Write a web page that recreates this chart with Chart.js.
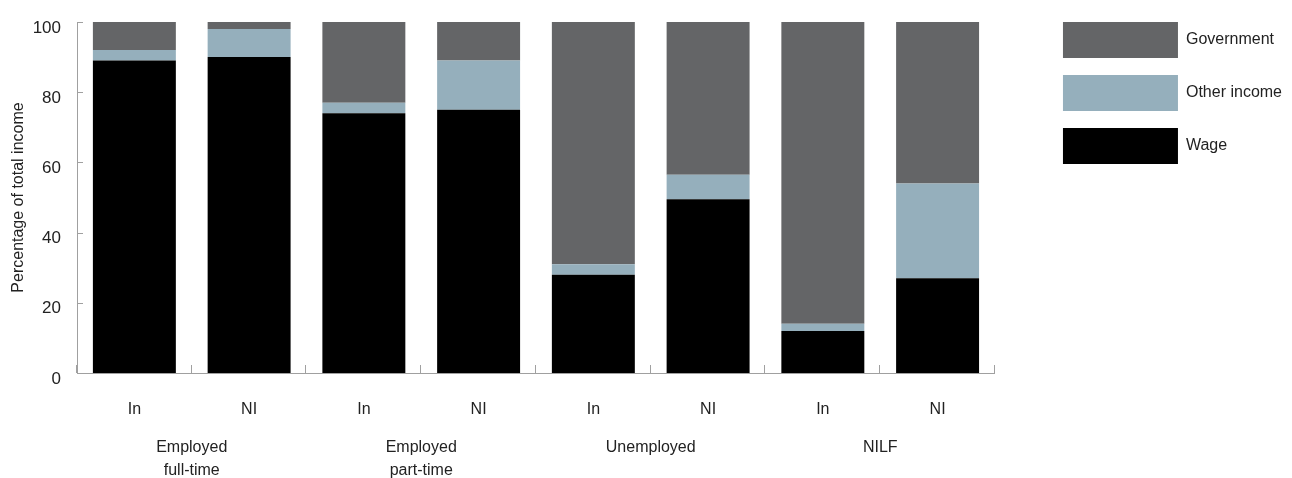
<!DOCTYPE html>
<html>
<head>
<meta charset="utf-8">
<script src="https://cdn.jsdelivr.net/npm/chart.js@4/dist/chart.umd.min.js"></script>
<style>
    body { margin: 0; background: #fff; }
    #wrap { width: 1292px; height: 478px; position: relative; }
</style>
</head>
<body>
<div id="wrap"><canvas id="income-chart"></canvas></div>
<script>
// Data
const categories = ['In', 'NI', 'In', 'NI', 'In', 'NI', 'In', 'NI'];
const groups = [['Employed', 'full-time'], ['Employed', 'part-time'], 'Unemployed', 'NILF'];
const wage = [89, 90, 74, 75, 28, 49.5, 12, 27];
const otherIncome = [3, 8, 3, 14, 3, 7, 2, 27];
const government = [8, 2, 23, 11, 69, 43.5, 86, 46];
const yTicks = [0, 20, 40, 60, 80, 100];

const axisColor = '#a0a0a0';
const textColor = '#222';

Chart.defaults.font.family = "'Liberation Sans', Arial, sans-serif";
Chart.defaults.font.size = 16;
Chart.defaults.color = textColor;

// Short tick marks pointing into the plot
const innerTicks = {
    id: 'innerTicks',
    afterDraw(chart) {
        const ctx = chart.ctx;
        const x = chart.scales.x;
        const y = chart.scales.y;
        ctx.save();
        ctx.strokeStyle = axisColor;
        ctx.lineWidth = 1;
        ctx.beginPath();
        yTicks.forEach(v => {
            const py = Math.round(y.getPixelForValue(v)) + 0.5;
            ctx.moveTo(y.right, py);
            ctx.lineTo(y.right + 6, py);
        });
        for (let i = 0; i <= categories.length; i++) {
            let px;
            if (i === 0) px = x.left;
            else if (i === categories.length) px = x.right;
            else px = (x.getPixelForTick(i - 1) + x.getPixelForTick(i)) / 2;
            px = Math.round(px) - 0.5;
            ctx.moveTo(px, x.top);
            ctx.lineTo(px, x.top - 8);
        }
        ctx.stroke();
        ctx.restore();
    }
};

new Chart(document.getElementById('income-chart'), {
    type: 'bar',
    data: {
        labels: categories,
        datasets: [
            { label: 'Wage', data: wage, backgroundColor: '#000000' },
            { label: 'Other income', data: otherIncome, backgroundColor: '#95afbc' },
            { label: 'Government', data: government, backgroundColor: '#646567' }
        ]
    },
    options: {
        responsive: true,
        maintainAspectRatio: false,
        animation: false,
        borderWidth: 0,
        categoryPercentage: 1,
        barPercentage: 0.723,
        layout: { padding: { top: 5, right: 0, bottom: 0, left: 0 } },
        plugins: {
            tooltip: { enabled: false },
            legend: {
                position: 'right',
                align: 'start',
                reverse: true,
                maxWidth: 320,
                labels: {
                    boxWidth: 115,
                    boxHeight: 36,
                    padding: 17,
                    color: textColor,
                    font: { size: 16 }
                }
            }
        },
        scales: {
            x: {
                stacked: true,
                weight: 1,
                grid: { display: false, drawTicks: false },
                border: { display: true, color: axisColor, width: 1 },
                ticks: { padding: 27, font: { size: 16 } },
                afterFit: s => { s.height = 49; }
            },
            x2: {
                type: 'category',
                labels: groups,
                position: 'bottom',
                offset: true,
                weight: 2,
                grid: { display: false, drawTicks: false },
                border: { display: false },
                ticks: { padding: 14, font: { size: 16, lineHeight: 1.44 } },
                afterFit: s => { s.height = 56; }
            },
            y: {
                stacked: true,
                min: 0,
                max: 100,
                grid: { display: false, drawTicks: false },
                border: { display: true, color: axisColor, width: 1 },
                ticks: {
                    stepSize: 20,
                    padding: 16,
                    labelOffset: 6,
                    font: { size: 17 }
                },
                title: {
                    display: true,
                    text: 'Percentage of total income',
                    color: textColor,
                    font: { size: 16 },
                    padding: { top: 9, bottom: 0 }
                },
                afterFit: s => {
                    s.width = 77;
                    s.paddingTop = 22;
                    s.paddingBottom = 0;
                }
            },
            gap: {
                type: 'linear',
                position: 'right',
                display: true,
                grid: { display: false, drawTicks: false },
                border: { display: false },
                ticks: { display: false },
                afterFit: s => { s.width = 51; }
            }
        }
    },
    plugins: [innerTicks]
});
</script>
</body>
</html>
